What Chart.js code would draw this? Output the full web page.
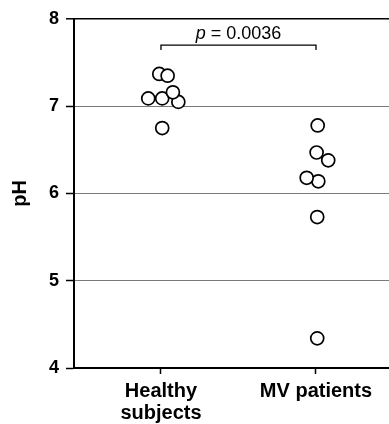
<!DOCTYPE html>
<html>
<head>
<meta charset="utf-8">
<script src="https://cdn.jsdelivr.net/npm/chart.js@4"></script>
<style>
  html, body { margin: 0; padding: 0; background: #fff; }
  #wrap { width: 389px; height: 424px; }
</style>
</head>
<body>
<div id="wrap"><canvas id="chart"></canvas></div>
<script>
'use strict'

// ------------- data ------------- //
var groupLabels = [['Healthy', 'subjects'], ['MV patients']];
var groupPos = [1, 2];

var healthyPH     = [7.37, 7.35, 7.09, 7.09, 7.05, 7.16, 6.75];
var healthyJitter = [-0.011, 0.043, -0.082, 0.008, 0.112, 0.077, 0.008];

var mvPH     = [6.78, 6.38, 6.47, 6.14, 6.18, 5.73, 4.34];
var mvJitter = [0.011, 0.079, 0.004, 0.015, -0.060, 0.008, 0.008];

var yTicks = [4, 5, 6, 7, 8];
var pValue = '0.0036';
var bracketTop = 7.70;
var bracketFoot = 7.645;
var pLabelY = 7.83;

var FONT = "'Liberation Sans', Arial, Helvetica, sans-serif";

function toPoints(center, jitter, vals) {
  var pts = [];
  for (let k = 0; k < vals.length; k++)
    pts.push({ x: center + jitter[k], y: vals[k] });
  return pts;
}

var dotStyle = {
  type: 'scatter',
  pointRadius: 6.5,
  pointHoverRadius: 6.5,
  pointBorderWidth: 1.7,
  pointBackgroundColor: '#fff',
  pointBorderColor: '#000',
  showLine: false
};

var data = {
  datasets: [
    Object.assign({ label: 'Healthy subjects', data: toPoints(groupPos[0], healthyJitter, healthyPH) }, dotStyle),
    Object.assign({ label: 'MV patients', data: toPoints(groupPos[1], mvJitter, mvPH) }, dotStyle),
    {
      type: 'line',
      label: 'bracket',
      data: [
        { x: groupPos[0], y: bracketFoot },
        { x: groupPos[0], y: bracketTop },
        { x: groupPos[1], y: bracketTop },
        { x: groupPos[1], y: bracketFoot }
      ],
      borderColor: '#000',
      borderWidth: 1.3,
      pointRadius: 0,
      tension: 0,
      fill: false
    }
  ]
};

// p-value label over the bracket
var pLabel = {
  id: 'pLabel',
  afterDatasetsDraw: function(chart) {
    var c = chart.ctx;
    var x = chart.scales.x.getPixelForValue((groupPos[0] + groupPos[1]) / 2);
    var y = chart.scales.y.getPixelForValue(pLabelY);
    c.save();
    c.fillStyle = '#000';
    c.textBaseline = 'middle';
    c.font = 'italic 18px ' + FONT;
    var w1 = c.measureText('p').width;
    c.font = '18px ' + FONT;
    var rest = ' = ' + pValue;
    var w2 = c.measureText(rest).width;
    var x0 = x - (w1 + w2) / 2;
    c.textAlign = 'left';
    c.font = 'italic 18px ' + FONT;
    c.fillText('p', x0, y);
    c.font = '18px ' + FONT;
    c.fillText(rest, x0 + w1, y);
    c.restore();
  }
};

var ctx = document.getElementById('chart').getContext('2d');
var myChart = new Chart(ctx, {
  data: data,
  plugins: [pLabel],
  options: {
    responsive: true,
    maintainAspectRatio: false,
    animation: false,
    layout: { autoPadding: false, padding: { top: 19, right: 0, bottom: 0, left: 0 } },
    plugins: {
      legend: { display: false },
      tooltip: { enabled: false }
    },
    scales: {
      x: {
        type: 'linear',
        min: 0.439,
        max: 2.471,
        afterBuildTicks: function(scale) {
          scale.ticks = groupPos.map(function(v) { return { value: v }; });
        },
        afterFit: function(scale) {
          scale.height = 56;
          scale.paddingLeft = 0;
          scale.paddingRight = 0;
        },
        grid: {
          drawOnChartArea: false,
          drawTicks: true,
          tickLength: 6,
          tickColor: '#000',
          tickWidth: 1.5
        },
        border: { display: true, color: '#000', width: 2 },
        ticks: {
          autoSkip: false,
          maxRotation: 0,
          padding: 6,
          color: '#000',
          font: { family: FONT, size: 20, weight: 'bold', lineHeight: 1.1 },
          callback: function(value) {
            var k = groupPos.indexOf(value);
            return k >= 0 ? groupLabels[k] : '';
          }
        }
      },
      y: {
        type: 'linear',
        min: 4,
        max: 8,
        afterBuildTicks: function(scale) {
          scale.ticks = yTicks.map(function(v) { return { value: v }; });
        },
        afterFit: function(scale) {
          scale.width = 74;
          scale.paddingTop = 0;
          scale.paddingBottom = 0;
        },
        grid: {
          color: function(c) { return c.tick && c.tick.value === 8 ? '#000' : '#7a7a7a'; },
          lineWidth: function(c) { return c.tick && c.tick.value === 8 ? 1.6 : 1; },
          tickColor: '#000',
          tickLength: 8,
          tickWidth: 1.5
        },
        border: { display: true, color: '#000', width: 2 },
        ticks: {
          padding: 7,
          color: '#000',
          font: { family: FONT, size: 18, weight: 'bold' }
        },
        title: {
          display: true,
          text: 'pH',
          color: '#000',
          padding: { top: 8, bottom: 0 },
          font: { family: FONT, size: 20, weight: 'bold' }
        }
      }
    }
  }
});
</script>
</body>
</html>
